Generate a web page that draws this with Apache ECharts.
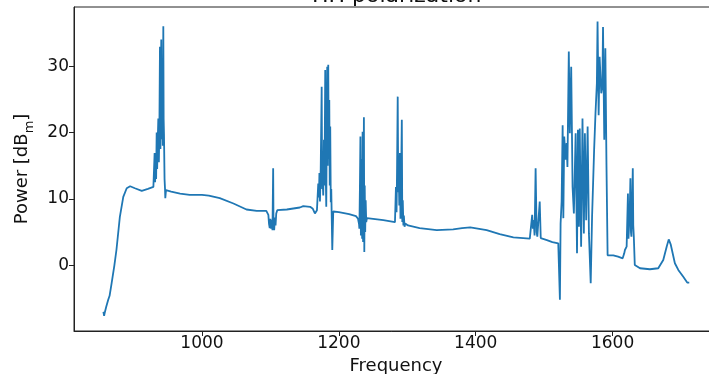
<!DOCTYPE html>
<html>
<head>
<meta charset="utf-8">
<title>HH polarization</title>
<script src="https://cdn.jsdelivr.net/npm/echarts@6/dist/echarts.min.js"></script>
<style>
  html, body { margin: 0; padding: 0; background: #fff; }
  #chart { width: 709px; height: 374px; }
</style>
</head>
<body>
<div id="chart"></div>
<script>
// spectrum, frequency -> power (dBm)
const frequency = [
  856, 857, 858, 860, 863, 865, 868, 872, 875, 880, 885, 890, 895, 902, 912, 921, 929,
  930, 930.8, 931.5, 932.3, 933, 933.8, 934.5, 935.3, 936.2, 937, 937.8, 938.6, 939.3, 940, 940.5,
  941.2, 942, 942.7, 943.5, 944, 944.5, 945.3, 946, 946.4, 947.4,
  955, 968, 982, 1000, 1010, 1026, 1046, 1065, 1080, 1094,
  1096, 1097, 1098, 1099, 1100, 1101, 1102, 1103, 1104, 1104.5, 1105.5, 1106.5, 1107.5, 1108.5, 1110,
  1124, 1143, 1148, 1158, 1162, 1165, 1166.5, 1168,
  1169.9, 1170.9, 1171.6, 1172.4, 1173.5, 1174.9, 1175.6, 1176.3, 1177.2, 1178.2, 1179, 1180.1,
  1180.8, 1181.6, 1182.3, 1183, 1183.7, 1184.5, 1185.2, 1186, 1186.7, 1187.4, 1188.2, 1188.9, 1190.4, 1191.8,
  1200, 1215, 1225, 1228, 1229.5,
  1230, 1230.8, 1231.5, 1232.2, 1233, 1234, 1234.7, 1235.4, 1236, 1236.6, 1237.2, 1237.8, 1238.5, 1239.2, 1240, 1241,
  1250, 1265, 1282,
  1283.4, 1284.3, 1285, 1286, 1286.8, 1287.5, 1288.3, 1289.2, 1290, 1291, 1292, 1292.7, 1293.4, 1294.3, 1295, 1296, 1297, 1301,
  1318, 1343, 1367, 1380, 1392, 1416, 1435, 1455, 1479,
  1481, 1482.5, 1483.5, 1484.5, 1486, 1487.5, 1489, 1490, 1492, 1493.5, 1495, 1497,
  1504, 1512, 1520.6,
  1523, 1524, 1525.5, 1527, 1528, 1529.3, 1531.3, 1532.8, 1534, 1536, 1537.5, 1539.5, 1541.5, 1543.4,
  1546, 1548, 1549.3, 1550.8, 1552, 1554, 1556, 1558, 1559.5, 1561.4, 1563.5, 1565.4, 1568, 1570,
  1573, 1575, 1577, 1578, 1579.6, 1581, 1583.4, 1585, 1586, 1587.8, 1589.4, 1591, 1592.7,
  1596, 1601, 1608, 1614.7, 1617, 1618, 1620.5,
  1622.4, 1623.2, 1624, 1625, 1626, 1626.8, 1627.5, 1628.5, 1629.5, 1630.2, 1631, 1632.4,
  1640, 1654.5, 1666.7, 1674, 1679, 1682, 1685, 1691, 1696, 1703, 1709, 1712
];
const power = [
  -7.0, -7.6, -7.1, -6.3, -5.2, -4.6, -2.7, 0, 2.3, 7.3, 10.3, 11.6, 11.9, 11.6, 11.2, 11.5, 11.8,
  11.8, 16.9, 12.5, 16.0, 13.0, 20.0, 14.5, 18.5, 22.1, 15.5, 21.0, 32.9, 17.5, 28.5, 34.0,
  19.0, 24.4, 18.0, 36.0, 22.0, 19.6, 13.0, 11.5, 10.1, 11.3,
  11.1, 10.8, 10.6, 10.6, 10.5, 10.1, 9.3, 8.4, 8.2, 8.2,
  8.0, 7.6, 6.2, 5.6, 7.0, 5.5, 6.8, 5.3, 14.6, 6.5, 5.3, 7.2, 6.0, 7.8, 8.3,
  8.4, 8.7, 8.9, 8.8, 8.5, 7.8, 7.6, 8.3,
  12.3, 10.2, 13.9, 9.6, 14.5, 26.9, 11.5, 12.8, 10.5, 18.9, 12.0, 29.4,
  14.0, 8.8, 20.0, 29.9, 15.0, 30.2, 16.0, 24.9, 12.0, 20.9, 9.5, 11.5, 2.3, 8.1,
  8.0, 7.7, 7.4, 7.0, 6.2,
  5.5, 12.0, 19.4, 4.5, 16.0, 4.0, 20.1, 3.5, 10.0, 22.3, 2.0, 12.0, 5.0, 9.8, 6.5, 7.1,
  7.0, 6.8, 6.5,
  11.8, 8.0, 14.0, 25.4, 11.0, 13.9, 9.0, 16.9, 7.0, 13.0, 21.9, 6.5, 9.8, 6.0, 7.5, 5.8, 6.3, 6.0,
  5.6, 5.3, 5.4, 5.6, 5.7, 5.3, 4.7, 4.2, 4.0,
  4.1, 7.6, 5.5, 6.8, 4.5, 14.6, 5.0, 4.3, 4.5, 9.6, 4.1, 3.9,
  3.8, 3.5, 3.3,
  -5.2, 6.3, 9.6, 21.1, 7.1, 19.4, 15.9, 18.4, 14.8, 32.2, 19.9, 29.9, 11.8, 7.8,
  19.9, 1.8, 20.4, 5.8, 20.6, 2.8, 22.1, 4.8, 19.9, 6.8, 20.9, 4.8, -2.7, 7.3,
  17.4, 22.9, 27.4, 36.7, 22.6, 31.4, 25.9, 26.9, 35.9, 18.9, 32.7, 15.4, 1.5,
  1.5, 1.5, 1.3, 1.05, 1.8, 2.3, 2.8,
  10.8, 4.0, 3.8, 8.0, 13.1, 5.0, 4.3, 9.0, 14.6, 6.0, 4.3, 0.05,
  -0.45, -0.6, -0.45, 0.8, 2.8, 3.9, 3.1, 0.3, -0.7, -1.7, -2.6, -2.6
];
const xTicks = [1000, 1200, 1400, 1600];
const yTicks = [0, 10, 20, 30];

const FONT = 'DejaVu Sans';
const chart = echarts.init(document.getElementById('chart'), null, { renderer: 'canvas' });

chart.setOption({
  animation: false,
  title: {
    text: 'HH polarization',
    left: 307,
    top: -20,
    textStyle: { fontFamily: FONT, fontSize: 22, fontWeight: 'normal', color: '#111' }
  },
  grid: {
    left: 74, right: -9, top: 7, bottom: 43,
    containLabel: false,
    outerBoundsMode: 'none',
    show: true, borderColor: '#222', borderWidth: 1
  },
  xAxis: {
    type: 'value',
    min: 813, max: 1754,
    name: 'Frequency',
    nameLocation: 'middle',
    nameGap: 14,
    nameTextStyle: { fontFamily: FONT, fontSize: 18, color: '#111' },
    splitLine: { show: false },
    axisLine: { onZero: false, lineStyle: { color: '#222', width: 1 } },
    axisTick: { length: 5, lineStyle: { color: '#222' }, customValues: xTicks },
    axisLabel: {
      fontFamily: FONT, fontSize: 17, color: '#111', margin: 4,
      customValues: xTicks, formatter: v => String(v)
    }
  },
  yAxis: {
    type: 'value',
    min: -9.9, max: 38.9,
    name: '{a|Power [dB}{sub|m}{a|]}',
    nameLocation: 'middle',
    nameGap: 32,
    nameTextStyle: {
      fontFamily: FONT, fontSize: 18, color: '#111',
      rich: {
        a: { fontFamily: FONT, fontSize: 18, color: '#111', verticalAlign: 'bottom', padding: [0, 0, 5, 0] },
        sub: { fontFamily: FONT, fontSize: 13, color: '#111', verticalAlign: 'bottom' }
      }
    },
    splitLine: { show: false },
    axisLine: { show: true, onZero: false, lineStyle: { color: '#222', width: 1 } },
    axisTick: { show: true, length: 5, lineStyle: { color: '#222' }, customValues: yTicks },
    axisLabel: {
      fontFamily: FONT, fontSize: 17, color: '#111', margin: 5,
      customValues: yTicks, formatter: v => String(v)
    }
  },
  series: [{
    type: 'line',
    showSymbol: false,
    data: frequency.map((f, i) => [f, power[i]]),
    lineStyle: { color: '#1f77b4', width: 1.8 },
    itemStyle: { color: '#1f77b4' }
  }]
});
</script>
</body>
</html>
